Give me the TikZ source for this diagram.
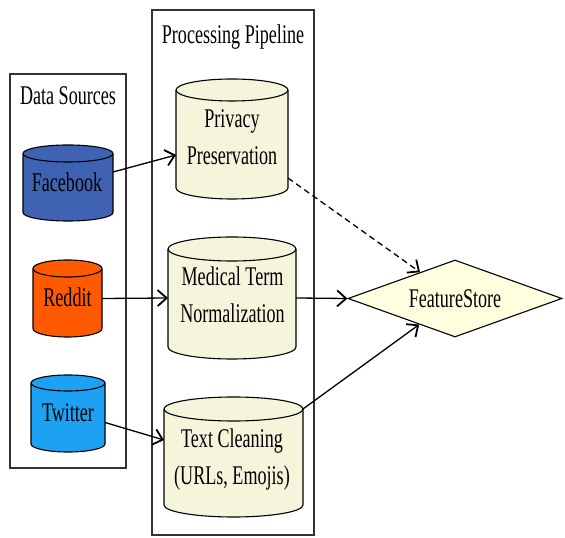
\documentclass[tikz,border=0pt]{standalone}
\usepackage{fontspec}
\setmainfont{Liberation Serif}[FakeStretch=0.67]
\usetikzlibrary{shapes.geometric,arrows.meta,calc}
\definecolor{fbblue}{HTML}{3F63B2}
\definecolor{rdorange}{HTML}{FF5A00}
\definecolor{twblue}{HTML}{1DA1F2}
\definecolor{procfill}{HTML}{F5F5DC}
\definecolor{fsfill}{HTML}{FFFFE0}
\definecolor{boxline}{HTML}{333333}
\tikzset{
  cylline/.style={draw=black, line width=1.1pt},
  cylbox/.style={rectangle, draw=none, inner sep=0pt, outer sep=0pt},
  grp/.style={rectangle, draw=boxline, line width=1.2pt, inner sep=0pt},
  lbl/.style={font=\fontsize{27}{37}\selectfont, align=center, inner sep=0pt},
  arr/.style={line width=1.3pt, -{Straight Barb[length=9pt,width=16pt,line width=1.8pt]}},
  dasharr/.style={arr, dash pattern=on 6pt off 4pt},
  fsnode/.style={diamond, draw=black, line width=1.1pt, fill=fsfill, aspect=2.78,
    minimum width=214pt, minimum height=77pt, inner sep=0pt,
    font=\fontsize{27}{37}\selectfont}
}
\newcommand\drawcyl[4]{%
  \filldraw[cylline, fill=#4] ([yshift=-#3pt]#1.north west) -- ([yshift=#3pt]#1.south west)
    arc[start angle=180,end angle=360,x radius=#2pt,y radius=#3pt]
    -- ([yshift=-#3pt]#1.north east)
    arc[start angle=0,end angle=180,x radius=#2pt,y radius=#3pt] -- cycle;
  \draw[cylline] ([yshift=-#3pt]#1.north west)
    arc[start angle=180,end angle=360,x radius=#2pt,y radius=#3pt];
}
\begin{document}
\begin{tikzpicture}[x=1pt,y=1pt]
\useasboundingbox (0,0) rectangle (565,538);
% group boxes
\node[grp, minimum width=116pt, minimum height=394pt] (ds) at (68,267) {};
\node[grp, minimum width=162pt, minimum height=525pt] (pp) at (233,265.5) {};
\node[lbl, anchor=base] (dsT) at (68,433) {Data Sources};
\node[lbl, anchor=base] (ppT) at (233,494.5) {Processing Pipeline};
% source cylinders
\node[cylbox, minimum width=90pt, minimum height=76pt] (fb) at (68,355) {};
\drawcyl{fb}{45}{8.5}{fbblue}
\node[cylbox, minimum width=69pt, minimum height=77pt] (rd) at (67.5,239.5) {};
\drawcyl{rd}{34.5}{8.5}{rdorange}
\node[cylbox, minimum width=74pt, minimum height=77pt] (tw) at (68,124.5) {};
\drawcyl{tw}{37}{8}{twblue}
% processing cylinders
\node[cylbox, minimum width=112pt, minimum height=120pt] (priv) at (232,399) {};
\drawcyl{priv}{56}{11}{procfill}
\node[cylbox, minimum width=128pt, minimum height=122pt] (med) at (232,240) {};
\drawcyl{med}{64}{12}{procfill}
\node[cylbox, minimum width=139pt, minimum height=120pt] (tc) at (233.5,81) {};
\drawcyl{tc}{69.5}{12}{procfill}
% labels (base = baseline of the last line)
\node[lbl, anchor=base] (fbT) at (67,346.3) {Facebook};
\node[lbl, anchor=base] (rdT) at (67.5,231.3) {Reddit};
\node[lbl, anchor=base] (twT) at (68,116.3) {Twitter};
\node[lbl, anchor=base] (privT) at (232,373) {Privacy\\Preservation};
\node[lbl, anchor=base] (medT) at (232.5,215) {Medical Term\\Normalization};
\node[lbl, anchor=base] (tcT) at (232,53) {Text Cleaning\\(URLs, Emojis)};
% feature store
\node[fsnode] (fs) at (455,239.5) {FeatureStore};
% connectors
\draw[arr] ([yshift=11pt]fb.east) -- ([yshift=-16pt]priv.west);
\draw[arr] (rd.east) -- (med.west);
\draw[arr] ([yshift=-9pt]tw.east) -- ([yshift=17pt]tc.west);
\draw[dasharr] ([yshift=-39pt]priv.east) -- (fs.143);
\draw[arr] (med.east) -- (fs.west);
\draw[arr] ([yshift=-12pt]tc.north east) -- (fs.216);
\end{tikzpicture}
\end{document}
